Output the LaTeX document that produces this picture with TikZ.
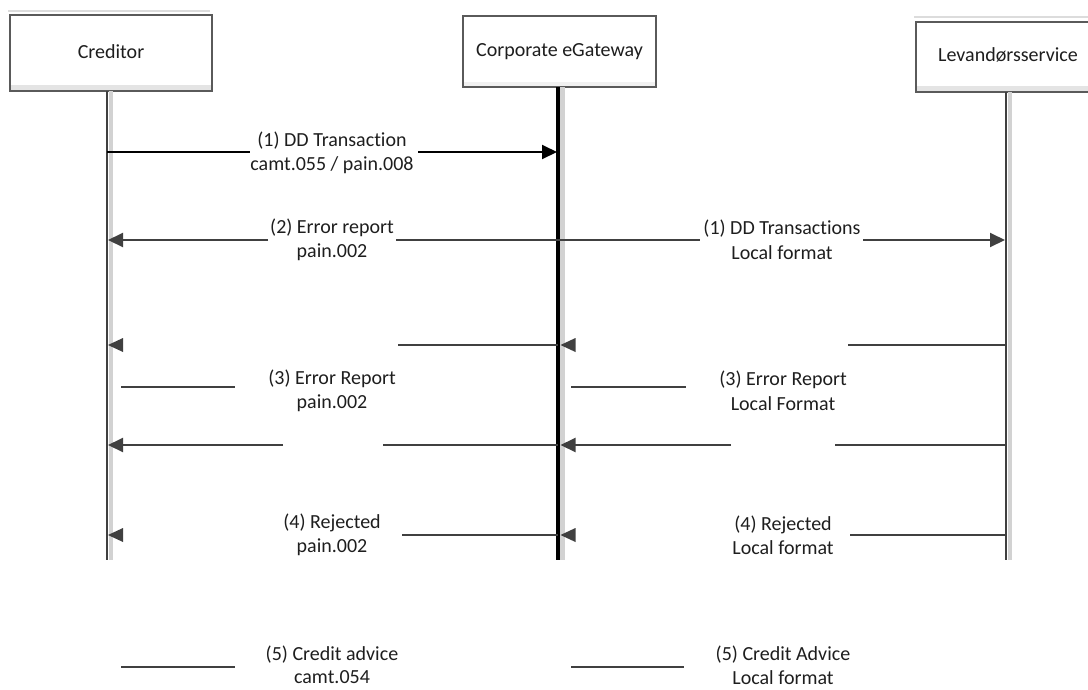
\documentclass[tikz,border=0pt]{standalone}
\usepackage{fontspec}
\setmainfont{Carlito}[Ligatures={NoCommon}]
\usetikzlibrary{arrows.meta}
\definecolor{ln}{HTML}{404040}
\definecolor{bd}{HTML}{5A5A5A}
\definecolor{shd}{HTML}{D2D2D2}
\definecolor{band}{HTML}{E4E4E4}
\definecolor{topln}{HTML}{DCDCDC}
\definecolor{txt}{HTML}{1E1E1E}
\begin{document}
\begin{tikzpicture}[x=1pt,y=-1pt,
  box/.style={draw=bd, line width=1.3pt, fill=white, inner sep=0pt},
  boxtext/.style={inner sep=0pt, font=\fontsize{20}{23}\selectfont, text=txt},
  lbl/.style={align=center, inner sep=0pt,
    font=\fontsize{20}{24.5}\selectfont, text=txt},
  msg/.style={draw=ln, line width=2pt},
  thin/.style={draw=ln, line width=1.3pt},
  tip/.style={-{Triangle[length=15pt,width=14pt]}},
  head/.style={fill=ln}
]
\useasboundingbox (0,0) rectangle (1088,689);
\clip (0,0) rectangle (1088,689);

% top decoration lines
\coordinate (tl1) at (8,11);   \coordinate (tl2) at (210,11);
\coordinate (tl3) at (914,17); \coordinate (tl4) at (1088,17);
\draw[topln, line width=1.5pt] (tl1) -- (tl2);
\draw[topln, line width=1.5pt] (tl3) -- (tl4);

% participant boxes
\node[box, minimum width=202pt, minimum height=76pt] (cred) at (111,53) {};
\fill[band] (10.7,85) rectangle (211.3,90.4);
\node[boxtext] (credt) at (111,52) {Creditor};

\node[box, minimum width=193pt, minimum height=71pt] (gw) at (559.5,51.5) {};
\fill[band!50] (463.7,82) rectangle (655.3,86.4);
\node[boxtext] (gwt) at (559.5,52) {Corporate eGateway};

\node[box, minimum width=184pt, minimum height=70pt] (lev) at (1008,57) {};
\fill[band] (916.7,86) rectangle (1099,91.4);
\node[boxtext] (levt) at (1008,55) {Levandørsservice};

% lifelines
\coordinate (ct) at (107,91);   \coordinate (cb) at (107,560);
\coordinate (gt) at (558,87);   \coordinate (gb) at (558,560);
\coordinate (lt) at (1006,92);  \coordinate (lb) at (1006,560);
\fill[shd] (108.5,91) rectangle (113,560);
\fill[shd] (560,87) rectangle (564.5,560);
\fill[shd] (1007.5,92) rectangle (1012,560);
\draw[ln, line width=2pt] (ct) -- (cb);
\draw[black, line width=3.6pt] (gt) -- (gb);
\draw[ln, line width=2pt] (lt) -- (lb);

% (1) DD Transaction
\coordinate (a1) at (107,152); \coordinate (a2) at (250,152);
\coordinate (a3) at (418,152); \coordinate (a4) at (557,152);
\draw[msg, draw=black] (a1) -- (a2);
\draw[msg, draw=black, tip] (a3) -- (a4);
\node[lbl] (l1) at (332,153) {(1) DD Transaction\\camt.055 / pain.008};

% row 240
\coordinate (b1) at (268,240); \coordinate (b0) at (108,240);
\coordinate (b2) at (396,240); \coordinate (b3) at (700,240);
\coordinate (b4) at (863,240); \coordinate (b5) at (1005,240);
\draw[msg, tip] (b1) -- (b0);
\draw[msg] (b2) -- (b3);
\draw[msg, tip] (b4) -- (b5);
\node[lbl] (l2) at (332,240) {(2) Error report\\pain.002};
\node[lbl] (l2r) at (782,240) {(1) DD Transactions\\Local format};

% row 345
\coordinate (c0) at (108,345); \coordinate (c1) at (398,345);
\coordinate (c2) at (558,345); \coordinate (c3) at (560.5,345);
\coordinate (c4) at (848,345); \coordinate (c5) at (1006,345);
\fill[head] (c0) -- ++(15,-7) -- ++(0,14) -- cycle;
\draw[msg] (c1) -- (c2);
\fill[head] (c3) -- ++(15,-7) -- ++(0,14) -- cycle;
\draw[msg] (c4) -- (c5);

% row 387 short lines
\coordinate (d1) at (121,387); \coordinate (d2) at (235,387);
\coordinate (d3) at (571,387); \coordinate (d4) at (686,387);
\draw[thin] (d1) -- (d2);
\draw[thin] (d3) -- (d4);
\node[lbl] (l3) at (332,391) {(3) Error Report\\pain.002};
\node[lbl] (l3r) at (783,391) {(3) Error Report\\Local Format};

% row 445
\coordinate (e0) at (108,445); \coordinate (e1) at (283,445);
\coordinate (e2) at (383,445); \coordinate (e3) at (558,445);
\coordinate (e4) at (560.5,445); \coordinate (e5) at (731,445);
\coordinate (e6) at (835,445); \coordinate (e7) at (1006,445);
\draw[msg, tip] (e1) -- (e0);
\draw[msg] (e2) -- (e3);
\draw[msg, tip] (e5) -- (e4);
\draw[msg] (e6) -- (e7);

% row 535
\coordinate (f0) at (108,535); \coordinate (f1) at (402,535);
\coordinate (f2) at (558,535); \coordinate (f3) at (560.5,535);
\coordinate (f4) at (850,535); \coordinate (f5) at (1006,535);
\fill[head] (f0) -- ++(15,-7) -- ++(0,14) -- cycle;
\draw[msg] (f1) -- (f2);
\fill[head] (f3) -- ++(15,-7) -- ++(0,14) -- cycle;
\draw[msg] (f4) -- (f5);
\node[lbl] (l4) at (332,535) {(4) Rejected\\pain.002};
\node[lbl] (l4r) at (783,535) {(4) Rejected\\Local format};

% row 667
\coordinate (h1) at (121,667); \coordinate (h2) at (235,667);
\coordinate (h3) at (571,667); \coordinate (h4) at (684,667);
\draw[thin] (h1) -- (h2);
\draw[thin] (h3) -- (h4);
\node[lbl, font=\fontsize{20}{23.5}\selectfont] (l5) at (332,665) {(5) Credit advice\\camt.054};
\node[lbl, font=\fontsize{20}{23.5}\selectfont] (l5r) at (783,665) {(5) Credit Advice\\Local format};
\end{tikzpicture}
\end{document}
